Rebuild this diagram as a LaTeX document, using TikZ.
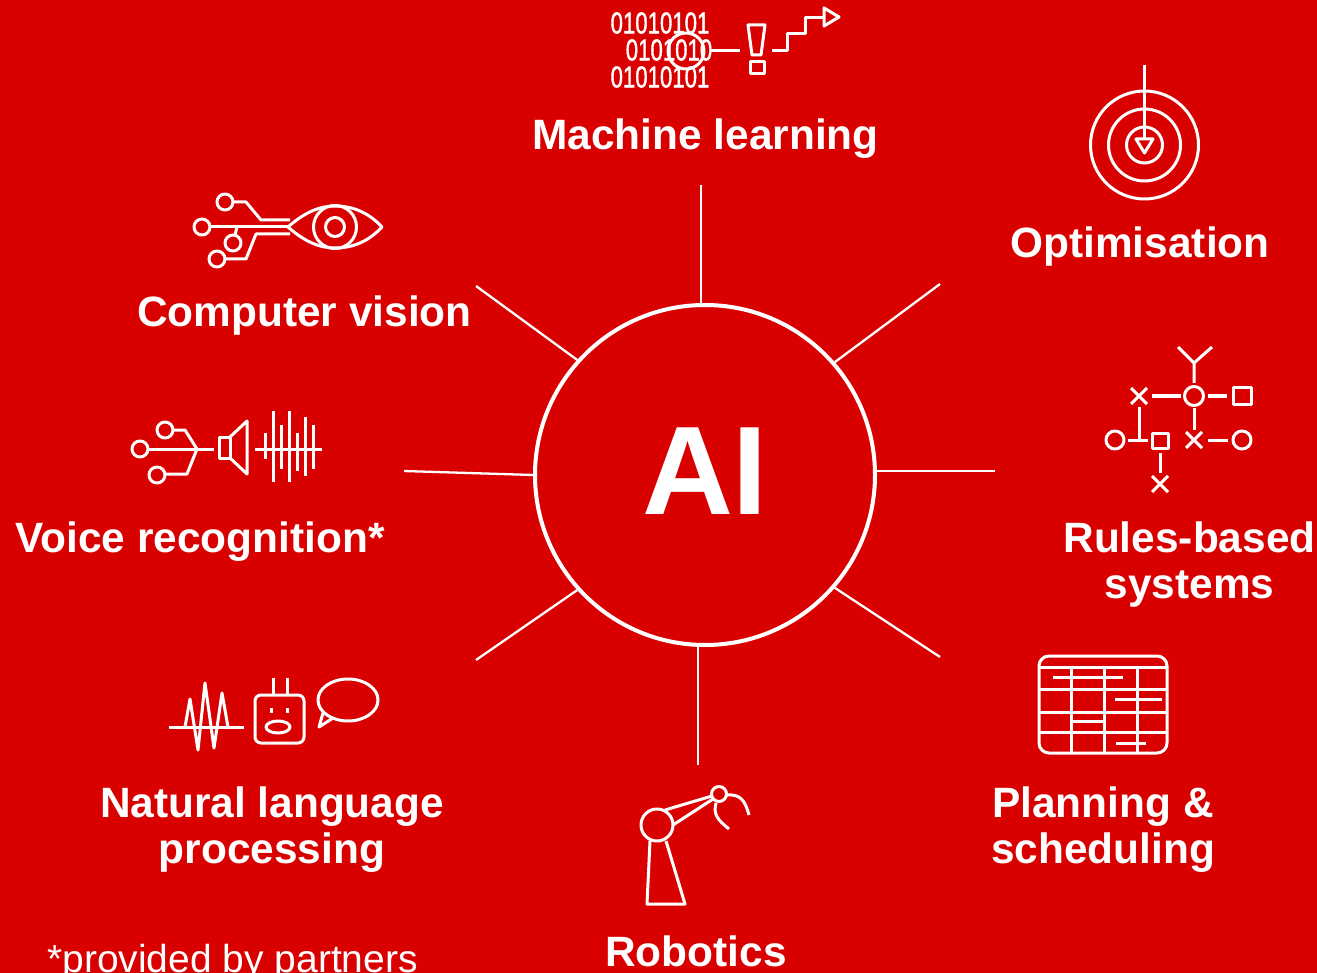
\documentclass[tikz,border=0pt]{standalone}
\usepackage{fontspec}
\setmainfont{Liberation Sans}
\newfontfamily\bitfont[FakeBold=1.6]{Liberation Sans}
\definecolor{bgred}{HTML}{D90000}
\newcommand{\xmark}[1]{\draw[icon,shift={(#1)}] (-8,-8) -- (8,8) (-8,8) -- (8,-8);}
\begin{document}
\begin{tikzpicture}[x=1pt,y=-1pt,
    hubnode/.style={draw=white,circle,line width=4pt,minimum size=340pt,inner sep=0pt,text=white,font=\fontsize{126}{130}\selectfont\bfseries},
    lnode/.style={text=white,inner sep=0pt,align=center,font=\fontsize{42.4}{46}\selectfont\bfseries},
    bitnode/.style={text=white,inner sep=0pt,xscale=0.74,transform shape,font=\fontsize{30}{32}\bitfont},
    spoke/.style={draw=white,line width=2.3pt},
    icon/.style={draw=white,line width=3pt,line join=round}]
    \useasboundingbox (0,0) rectangle (1317,973);
    \fill[bgred] (0,0) rectangle (1317,973);

    \node[hubnode] (hub) at (705,475) {\raisebox{7pt}{AI}};
    \node[lnode,anchor=base] (ml) at (705.5,150) {Machine learning};
    \node[lnode,anchor=base] (opt) at (1140,258) {Optimisation};
    \node[lnode,anchor=base] (cv) at (304.5,327) {Computer vision};
    \node[lnode,anchor=base] (vr) at (200,552) {Voice recognition*};
    \node[lnode] (rb) at (1189.5,565) {Rules-based\\systems};
    \node[lnode] (nlp) at (272,830) {Natural language\\processing};
    \node[lnode] (ps) at (1103,830) {Planning \&\\scheduling};
    \node[lnode,anchor=base] (rob) at (696,966) {Robotics};
    \node[text=white,inner sep=0pt,anchor=base west,font=\fontsize{39}{42}\selectfont] (note) at (47,972) {*provided by partners};

    \coordinate (s1) at (701,185);
    \coordinate (s2) at (940,284);
    \coordinate (s3) at (995,471);
    \coordinate (s4) at (940,657);
    \coordinate (s5) at (698,765);
    \coordinate (s6) at (476,660);
    \coordinate (s7) at (404,471);
    \coordinate (s8) at (476,286);
    \draw[spoke] (s1 |- hub.north) -- (s1);
    \draw[spoke] (hub.41) -- (s2);
    \draw[spoke] (hub.east |- s3) -- (s3);
    \draw[spoke] (hub.-41) -- (s4);
    \draw[spoke] (s5 |- hub.south) -- (s5);
    \draw[spoke] (hub.222) -- (s6);
    \draw[spoke] (hub.180) -- (s7);
    \draw[spoke] (hub.138) -- (s8);

    \node[bitnode] (bits1) at (660,23) {01010101};
    \node[bitnode] (bits2) at (669,50) {0101010};
    \node[bitnode] (bits3) at (660,77) {01010101};
    \draw[icon] (686,51) circle (18);
    \draw[icon] (711,51) -- (740,51);
    \draw[icon] (748,25) -- (765,25) -- (761,55) -- (752,55) -- cycle;
    \draw[icon] (750,62) rectangle (764,74);
    \draw[icon] (772,51) -- (787,51) -- (787,34) -- (805,34) -- (805,18) -- (824,18);
    \draw[icon] (824,8) -- (839,17) -- (824,26) -- cycle;

    \draw[icon] (1144.5,145) circle (54);
    \draw[icon] (1144.5,145) circle (36);
    \draw[icon] (1144.5,145) circle (18);
    \draw[icon] (1144.5,65) -- (1144.5,139);
    \draw[icon] (1136,139) -- (1153,139) -- (1144.5,153) -- cycle;

    \draw[icon] (225,202) circle (8);
    \draw[icon] (202,227) circle (8);
    \draw[icon] (233,243) circle (8);
    \draw[icon] (217,259) circle (8);
    \draw[icon] (233,202) -- (246,202) -- (261,220) -- (290,220);
    \draw[icon] (210,227) -- (288,227);
    \draw[icon] (237,227) -- (235,235);
    \draw[icon] (225,259) -- (246,259) -- (256,234) -- (290,234);
    \draw[icon] (288,227) .. controls (305,212) and (320,206) .. (335,206) .. controls (352,206) and (368,212) .. (382,227) .. controls (368,242) and (352,248) .. (335,248) .. controls (320,248) and (305,242) .. (288,227);
    \draw[icon] (335,227) circle (21.5);
    \draw[icon] (335,227) circle (9.5);

    \draw[icon] (1178,347) -- (1194,363) -- (1212,347) (1194,363) -- (1194,383);
    \draw[icon] (1194,396) circle (9.5);
    \xmark{1139,396}
    \draw[icon] (1152,396) -- (1181,396);
    \draw[icon] (1208,396) -- (1227,396);
    \draw[icon] (1233,388) rectangle (1251,404);
    \draw[icon] (1194,408) -- (1194,430);
    \xmark{1194,440}
    \draw[icon] (1208,440) -- (1228,440);
    \draw[icon] (1242,440) circle (9);
    \draw[icon] (1115,440) circle (9);
    \draw[icon] (1128,440) -- (1148,440);
    \draw[icon] (1139,407) -- (1139,440);
    \draw[icon] (1152,433) rectangle (1168,448);
    \draw[icon] (1160,453) -- (1160,473);
    \xmark{1160,484}

    \draw[icon] (165,430) circle (8);
    \draw[icon] (140,449) circle (8);
    \draw[icon] (157,475) circle (8);
    \draw[icon] (173,430) -- (185,430) -- (197,449);
    \draw[icon] (148,449) -- (214,449);
    \draw[icon] (165,474) -- (187,474) -- (197,449);
    \draw[icon] (219,437) rectangle (230,458);
    \draw[icon] (230,437) -- (247,421) -- (247,474) -- (230,458);
    \draw[icon] (255,449) -- (322,449);
    \foreach \x/\ya/\yb in {265/433/459,273/411/482,281/425/469,289/411/482,297/433/471,305/417/476,313/425/469}
        \draw[icon] (\x,\ya) -- (\x,\yb);

    \draw[icon] (169,727) -- (244,727);
    \draw[icon] (185,727) -- (190,699) -- (198,750) -- (205,683) -- (214,748) -- (222,693) -- (228,727);
    \draw[icon,rounded corners=6pt] (255,695) rectangle (304,743);
    \draw[icon] (273,678) -- (273,695);
    \draw[icon] (287,678) -- (287,695);
    \draw[icon] (271,708) -- (271,713);
    \draw[icon] (287,708) -- (287,713);
    \draw[icon] (278,727) ellipse (12 and 6);
    \draw[icon] (348,700) ellipse (30 and 21);
    \draw[icon] (323,713) -- (319,727) -- (333,718);

    \draw[icon,rounded corners=10pt] (1039,656) rectangle (1167,753);
    \foreach \y in {667,689,712,732}
        \draw[icon] (1039,\y) -- (1167,\y);
    \foreach \x in {1071,1104,1137}
        \draw[icon] (\x,667) -- (\x,753);
    \draw[icon] (1053,677) -- (1123,677);
    \draw[icon] (1115,699) -- (1162,699);
    \draw[icon] (1071,721) -- (1104,721);
    \draw[icon] (1116,743) -- (1146,743);

    \draw[icon] (657,825) circle (16);
    \draw[icon] (719,794) circle (7.5);
    \draw[icon] (665,810) -- (712,796);
    \draw[icon] (673,825) -- (713,799);
    \draw[icon] (650,841) -- (647,904) -- (685,904) -- (666,841);
    \draw[icon] (727,795) .. controls (740,794) and (745,800) .. (749,815);
    \draw[icon] (716,803) .. controls (713,815) and (718,820) .. (729,829);
\end{tikzpicture}
\end{document}
